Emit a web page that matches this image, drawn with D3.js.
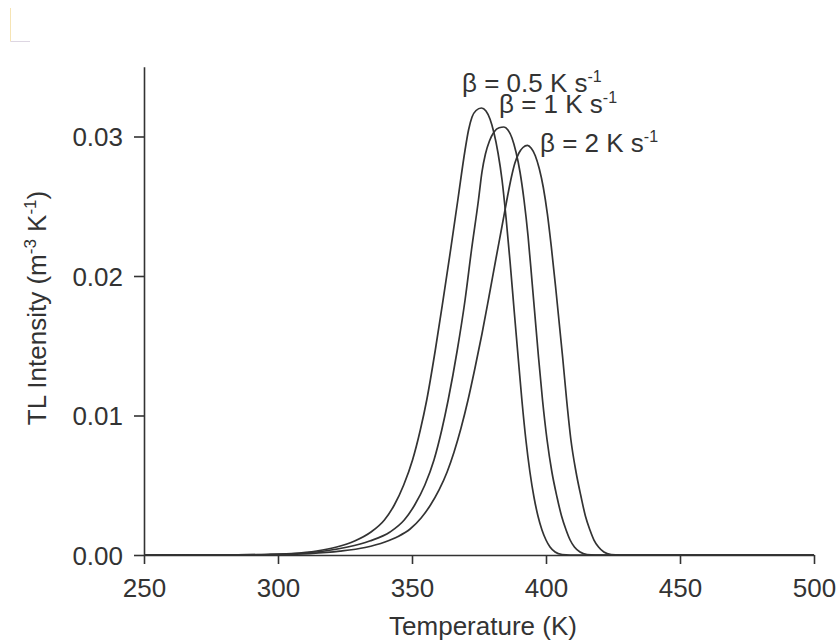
<!DOCTYPE html>
<html>
<head>
<meta charset="utf-8">
<script src="https://cdn.jsdelivr.net/npm/d3@7"></script>
<style>
  body { margin: 0; background: #fff; }
  svg { display: block; }
</style>
</head>
<body>
<svg width="838" height="643"></svg>
<script>
// glow curves, T in K, intensity in m^-3 K^-1
const temps1 = [250, 280, 295.2, 305.1, 314.4, 321.9, 328.6, 334.7, 339.7, 343.4, 346.9, 350.2, 353.1, 355.5, 358.7, 361.6, 364.4, 367.1, 369.8, 371.1, 372.4, 373.9, 375.9,
    377.6, 379.1, 380.6, 382.1, 383.6, 385.1, 386.6, 388.1, 389.6, 391.0, 392.5, 394.0, 395.5, 397.0, 398.5, 400.0, 401.5, 403.4, 406.0, 409.0, 500];
const intensity1 = [0, 0.00001, 0.000036, 0.000108, 0.000287, 0.000573, 0.001004, 0.001649, 0.002509, 0.003584, 0.005018, 0.00681, 0.008961, 0.011111, 0.014695, 0.01828, 0.021864, 0.025448, 0.029032, 0.030466, 0.031398, 0.031864, 0.032043,
    0.031828, 0.031254, 0.030251, 0.028817, 0.026882, 0.024158, 0.021004, 0.017563, 0.014194, 0.011111, 0.008244, 0.00595, 0.004158, 0.002796, 0.001792, 0.001075, 0.000573, 0.000215, 0.000036, 0, 0];

const temps2 = [250, 285, 296.3, 306.9, 317.4, 326.0, 334.2, 341.8, 347.1, 351.0, 354.8, 358.2, 361.1, 363.5, 366.9, 369.8, 372.2, 374.8, 376.1, 377.4, 378.9, 380.6, 382.5, 384.3,
    385.8, 387.3, 388.8, 390.3, 391.8, 393.3, 394.8, 395.7, 397.2, 398.7, 400.4, 402.2, 404.1, 405.8, 407.5, 409.0, 410.6, 412.7, 415.3, 418.3, 500];
const intensity2 = [0, 0.00001, 0.000036, 0.000108, 0.000287, 0.000573, 0.001004, 0.001649, 0.002509, 0.003584, 0.005018, 0.00681, 0.008961, 0.011111, 0.014695, 0.01828, 0.021864, 0.025448, 0.027455, 0.028746, 0.029677, 0.030323, 0.030631, 0.030681,
    0.030466, 0.029892, 0.028889, 0.027455, 0.025448, 0.022867, 0.01957, 0.017563, 0.014194, 0.011111, 0.008244, 0.00595, 0.004158, 0.002796, 0.001792, 0.001075, 0.000573, 0.000215, 0.000036, 0, 0];

const temps3 = [250, 290, 300.8, 311.9, 323.1, 332.5, 339.9, 344.8, 349.3, 353.4, 356.9, 360.1, 363.1, 365.7, 368.3, 370.9, 373.5, 376.1, 378.7, 381.3, 383.6, 385.6, 387.1, 388.4, 389.9, 391.4, 393.1,
    394.5, 396.0, 397.5, 399.0, 400.5, 402.0, 403.7, 406.2, 407.7, 409.3, 411.2, 413.1, 414.7, 416.4, 417.9, 419.6, 421.6, 424.3, 427.6, 500];
const intensity3 = [0, 0.00001, 0.000029, 0.0001, 0.000272, 0.000538, 0.000932, 0.001326, 0.001864, 0.002652, 0.003584, 0.00466, 0.00595, 0.007384, 0.009104, 0.011111, 0.013405, 0.015842, 0.018495, 0.021219, 0.023584, 0.025663, 0.027097, 0.0281, 0.028817, 0.029211, 0.029369,
    0.029154, 0.028624, 0.027685, 0.026344, 0.024473, 0.022065, 0.018996, 0.014194, 0.011111, 0.008244, 0.00595, 0.004158, 0.002796, 0.001792, 0.001075, 0.000573, 0.000215, 0.000036, 0, 0];

const heatingRates = ["0.5", "1", "2"];

const xMajor = [250, 300, 350, 400, 450, 500];
const xMinor = [260, 270, 280, 290, 310, 320, 330, 340, 360, 370, 380, 390, 410, 420, 430, 440, 460, 470, 480, 490];
const yMajor = [0, 0.01, 0.02, 0.03];
const yMinor = [0.005, 0.015, 0.025, 0.035];

const svg = d3.select("svg");
const ink = "#333";
const font = "'Liberation Sans', Arial, sans-serif";

const x = d3.scaleLinear().domain([250, 500]).range([144, 814]);
const y = d3.scaleLinear().domain([0, 0.035]).range([555, 66.75]);

// faint scan mark in the top-left corner
svg.append("path").attr("d", "M10.5,8V41.5").attr("stroke", "#f6e4b4").attr("fill", "none");
svg.append("path").attr("d", "M10.5,41.5H30").attr("stroke", "#ddd6e2").attr("fill", "none");

// axes
const gx = svg.append("g").attr("transform", "translate(0,555)");
gx.call(d3.axisBottom(x).tickValues(xMinor).tickSize(5).tickSizeOuter(0).tickFormat(""));
gx.call(d3.axisBottom(x).tickValues(xMajor).tickSize(9).tickSizeOuter(0).tickFormat(d3.format("d")));

const gy = svg.append("g").attr("transform", "translate(144,0)");
gy.call(d3.axisLeft(y).tickValues(yMinor).tickSize(5).tickSizeOuter(0).tickFormat(""));
gy.call(d3.axisLeft(y).tickValues(yMajor).tickSize(10).tickSizeOuter(0).tickFormat(d3.format(".2f")));

svg.selectAll(".domain, .tick line").attr("stroke", ink).attr("stroke-width", 1.6);
svg.selectAll(".tick text")
    .attr("fill", ink)
    .attr("font-family", font)
    .attr("font-size", 26);
gx.selectAll(".tick text").attr("y", 42).attr("dy", null);
gy.selectAll(".tick text").attr("x", -21).attr("dy", "0.35em");

// axis titles
svg.append("text")
    .attr("x", 483).attr("y", 635)
    .attr("text-anchor", "middle")
    .attr("font-family", font).attr("font-size", 26).attr("fill", ink)
    .text("Temperature (K)");

const yTitle = svg.append("text")
    .attr("transform", "translate(46,308) rotate(-90)")
    .attr("text-anchor", "middle")
    .attr("font-family", font).attr("font-size", 26).attr("fill", ink);
yTitle.append("tspan").text("TL Intensity (m");
yTitle.append("tspan").attr("dy", -10).attr("font-size", 17).text("-3");
yTitle.append("tspan").attr("dy", 10).text(" K");
yTitle.append("tspan").attr("dy", -10).attr("font-size", 17).text("-1");
yTitle.append("tspan").attr("dy", 10).text(")");

// curves
const series = [
    {t: temps1, v: intensity1},
    {t: temps2, v: intensity2},
    {t: temps3, v: intensity3}
];

const line = d3.line()
    .x((d) => x(d[0]))
    .y((d) => y(d[1]))
    .curve(d3.curveMonotoneX);

svg.append("g").selectAll("path")
    .data(series)
    .join("path")
    .attr("d", (s) => line(s.t.map((t, i) => [t, s.v[i]])))
    .attr("fill", "none")
    .attr("stroke", ink)
    .attr("stroke-width", 1.7);

// heating rate labels
const labelPos = [[462, 92], [499, 113], [540, 152]];
heatingRates.forEach((r, i) => {
    const txt = svg.append("text")
        .attr("x", labelPos[i][0]).attr("y", labelPos[i][1])
        .attr("font-family", font).attr("font-size", 26).attr("fill", ink);
    txt.append("tspan").text(`\u03b2 = ${r} K s`);
    txt.append("tspan").attr("dy", -10).attr("font-size", 16).text("-1");
});
</script>
</body>
</html>
